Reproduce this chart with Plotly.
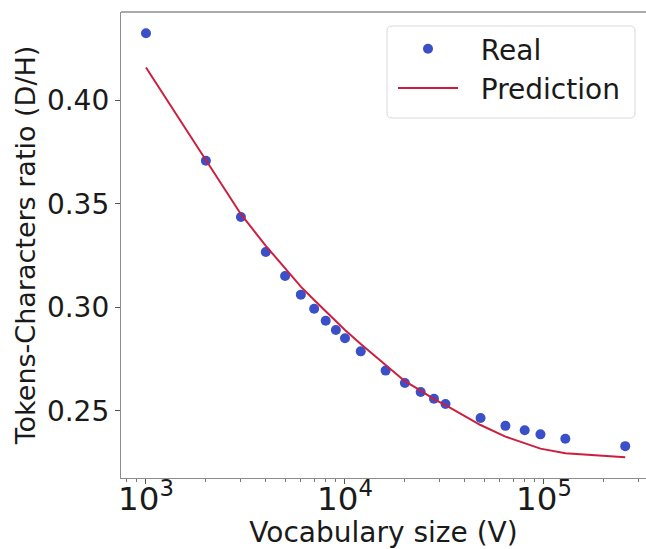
import plotly.graph_objects as go

vocab_sizes = [1000, 2000, 3000, 4000, 5000, 6000, 7000, 8000, 9000, 10000,
               12000, 16000, 20000, 24000, 28000, 32000, 48000, 64000, 80000,
               96000, 128000, 256000]
real_ratio = [0.4324, 0.3708, 0.3436, 0.3267, 0.3151, 0.3061, 0.2993, 0.2935,
              0.2890, 0.2850, 0.2787, 0.2694, 0.2634, 0.2591, 0.2558, 0.2533,
              0.2465, 0.2427, 0.2406, 0.2386, 0.2365, 0.2329]
pred_ratio = [0.4159, 0.3708, 0.3450, 0.3297, 0.3188, 0.3100, 0.3035, 0.2979,
              0.2930, 0.2890, 0.2823, 0.2722, 0.2643, 0.2597, 0.2556, 0.2527,
              0.2431, 0.2375, 0.2343, 0.2317, 0.2295, 0.2275]

FONT = "DejaVu Sans"
TXT = "#1a1a1a"
SPINE = "#8c8c8c"

fig = go.Figure()
fig.add_trace(go.Scatter(
    x=vocab_sizes, y=real_ratio, mode="markers", name="\u00a0\u00a0Real",
    marker=dict(color="#3a4fc8", size=10), legendgroup="a"))
fig.add_trace(go.Scatter(
    x=vocab_sizes, y=pred_ratio, mode="lines", name="\u00a0\u00a0Prediction",
    line=dict(color="#cc1f3f", width=2), legendgroup="b"))

W, H = 646, 549
L, R, T, B = 121, 0, 12, 71
pw, ph = W - L - R, H - T - B

def px_to_paper(xp, yp):
    return (xp - L) / pw, 1 - (yp - T) / ph

# legend box (rounded)
x0, y0 = px_to_paper(387, 26)
x1, y1 = px_to_paper(635, 118)
rx, ry = 5 / pw, 5 / ph
path = (f"M{x0+rx},{y0} L{x1-rx},{y0} Q{x1},{y0} {x1},{y0-ry} "
        f"L{x1},{y1+ry} Q{x1},{y1} {x1-rx},{y1} L{x0+rx},{y1} "
        f"Q{x0},{y1} {x0},{y1+ry} L{x0},{y0-ry} Q{x0},{y0} {x0+rx},{y0} Z")
fig.add_shape(type="path", path=path, xref="paper", yref="paper",
              line=dict(color="#d9d9d9", width=1), fillcolor="rgba(255,255,255,0.85)",
              layer="above")
# top spine
fig.add_shape(type="line", xref="paper", yref="paper", x0=0, x1=1, y0=1, y1=1,
              line=dict(color=SPINE, width=1.3))

lx, ly = px_to_paper(393, 24)

fig.update_layout(
    width=W, height=H,
    margin=dict(l=L, r=R, t=T, b=B, autoexpand=False),
    paper_bgcolor="white", plot_bgcolor="white",
    font=dict(family=FONT, size=28, color=TXT),
    showlegend=True,
    legend=dict(x=lx, y=ly, xanchor="left", yanchor="top",
                bgcolor="rgba(0,0,0,0)", borderwidth=0,
                font=dict(family=FONT, size=28, color=TXT),
                itemwidth=60, traceorder="grouped", tracegroupgap=0),
    xaxis=dict(
        type="log", range=[2.8744, 5.5126], automargin=False,
        dtick=1, exponentformat="power", showexponent="all",
        showgrid=False, zeroline=False,
        showline=True, linecolor=SPINE, linewidth=1.3,
        ticks="outside", ticklen=5, tickwidth=1.2, tickcolor="#555",
        ticklabelstandoff=-12,
        minor=dict(ticks="outside", ticklen=3, tickwidth=1, tickcolor="#777",
                   showgrid=False),
        title=dict(text="Vocabulary size (V)", standoff=0,
                   font=dict(family=FONT, size=28, color=TXT)),
        tickfont=dict(family=FONT, size=26, color=TXT),
    ),
    yaxis=dict(
        range=[0.2175, 0.4427], tick0=0.25, dtick=0.05, tickformat=".2f",
        automargin=False,
        showgrid=False, zeroline=False,
        showline=True, linecolor=SPINE, linewidth=1.3,
        ticks="outside", ticklen=5, tickwidth=1.2, tickcolor="#555",
        title=dict(text="Tokens-Characters ratio (D/H)", standoff=3,
                   font=dict(family=FONT, size=27, color=TXT)),
        tickfont=dict(family=FONT, size=28, color=TXT),
    ),
)

fig.write_html("out.html")
